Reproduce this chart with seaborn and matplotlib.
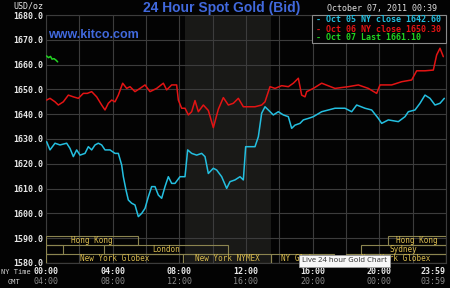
import matplotlib
matplotlib.use("Agg")
import matplotlib.pyplot as plt
import matplotlib.transforms as mtransforms
from matplotlib.patches import Rectangle
import seaborn as sns
import pandas as pd

# ---------------- data ----------------
oct05_hours = [0.04, 0.24, 0.54, 0.84, 1.24, 1.44, 1.64, 1.84, 2.04, 2.34, 2.54, 2.74, 2.94, 3.14,
               3.34, 3.54, 3.84, 4.14, 4.34, 4.54, 4.64, 4.80, 4.94, 5.14, 5.34, 5.54, 5.74, 5.94,
               6.14, 6.34, 6.54, 6.74, 6.94, 7.14, 7.34, 7.54, 7.74, 8.04, 8.34, 8.50, 8.74, 9.04,
               9.34, 9.54, 9.74, 10.04, 10.24, 10.54, 10.84, 11.04, 11.34, 11.64, 11.84, 11.98,
               12.24, 12.54, 12.74, 12.94, 13.14, 13.34, 13.64, 13.94, 14.24, 14.54, 14.74, 14.94,
               15.24, 15.44, 15.74, 16.04, 16.54, 17.34, 17.94, 18.34, 18.64, 19.14, 19.54, 19.94,
               20.14, 20.54, 21.14, 21.54, 21.74, 22.14, 22.44, 22.74, 23.04, 23.34, 23.64, 23.90]
oct05_price = [1628.9, 1625.6, 1628.3, 1627.6, 1628.3, 1626.2, 1622.9, 1625.6, 1623.5, 1624.2,
               1626.9, 1625.6, 1627.6, 1628.3, 1627.6, 1625.6, 1625.6, 1624.2, 1624.2, 1619.5,
               1614.8, 1609.4, 1605.4, 1604.1, 1603.4, 1598.7, 1600.0, 1602.0, 1606.7, 1610.8,
               1610.8, 1607.4, 1606.1, 1610.8, 1614.8, 1612.1, 1612.1, 1614.8, 1614.8, 1625.6,
               1624.2, 1623.5, 1624.2, 1622.9, 1616.1, 1618.2, 1617.5, 1614.8, 1610.1, 1612.8,
               1613.5, 1614.8, 1613.5, 1626.9, 1626.9, 1626.9, 1630.9, 1640.4, 1643.0, 1641.7,
               1639.7, 1641.0, 1639.7, 1639.0, 1634.3, 1635.6, 1636.3, 1637.7, 1638.3, 1639.0,
               1641.0, 1642.4, 1642.4, 1641.0, 1643.7, 1642.4, 1641.7, 1638.3, 1636.3, 1637.7,
               1637.0, 1639.0, 1641.0, 1641.7, 1644.4, 1647.7, 1646.4, 1643.7, 1644.4, 1646.4]

oct06_hours = [0.04, 0.24, 0.54, 0.74, 1.04, 1.34, 1.64, 1.94, 2.24, 2.48, 2.74, 3.04, 3.34, 3.54,
               3.74, 3.94, 4.14, 4.34, 4.60, 4.84, 5.04, 5.34, 5.64, 5.94, 6.24, 6.64, 7.04, 7.24,
               7.54, 7.84, 7.94, 8.14, 8.34, 8.54, 8.74, 8.94, 9.14, 9.44, 9.74, 10.04, 10.34,
               10.64, 10.94, 11.24, 11.54, 11.84, 12.14, 12.54, 12.94, 13.14, 13.44, 13.74, 14.14,
               14.54, 14.84, 15.14, 15.34, 15.54, 15.64, 16.04, 16.54, 17.34, 18.14, 18.74, 19.34,
               19.84, 20.04, 20.74, 21.34, 21.94, 22.24, 22.74, 23.24, 23.44, 23.64, 23.84]
oct06_price = [1645.7, 1646.4, 1645.0, 1643.7, 1645.0, 1647.7, 1647.0, 1646.4, 1648.4, 1648.4,
               1649.1, 1647.0, 1643.7, 1641.7, 1644.4, 1645.7, 1645.0, 1647.7, 1652.5, 1650.4,
               1651.1, 1649.1, 1650.4, 1651.8, 1649.1, 1650.4, 1652.5, 1649.8, 1651.8, 1651.8,
               1645.7, 1642.4, 1642.4, 1639.7, 1641.0, 1645.5, 1641.0, 1643.7, 1641.5, 1634.6,
               1642.0, 1646.7, 1643.7, 1644.4, 1646.4, 1643.0, 1643.0, 1643.0, 1643.7, 1645.0,
               1651.1, 1650.4, 1651.5, 1651.1, 1652.5, 1654.5, 1647.7, 1647.0, 1649.1, 1650.4,
               1652.5, 1650.4, 1651.1, 1651.8, 1650.4, 1648.4, 1651.8, 1651.8, 1653.1, 1653.8,
               1657.5, 1657.5, 1657.8, 1663.9, 1666.6, 1663.2]

oct07_hours = [0.03, 0.15, 0.27, 0.36, 0.48, 0.60, 0.70]
oct07_price = [1663.5, 1662.8, 1663.3, 1662.2, 1662.4, 1661.8, 1661.1]

series_names = ["Oct 05", "Oct 06", "Oct 07"]
legend_labels = ["Oct 05 NY close 1642.60", "Oct 06 NY close 1650.30", "Oct 07 Last 1661.10"]

y_ticks = [1580, 1590, 1600, 1610, 1620, 1630, 1640, 1650, 1660, 1670, 1680]
ny_time_labels = ["00:00", "04:00", "08:00", "12:00", "16:00", "20:00", "23:59"]
gmt_time_labels = ["04:00", "08:00", "12:00", "16:00", "20:00", "00:00", "03:59"]
label_hours = [0, 4, 8, 12, 16, 20, 24]

# sessions: name, start hour, end hour, row (0 = top)
session_names = ["Hong Kong", "Hong Kong", "", "London", "Sydney",
                 "New York Globex", "New York NYMEX", "NY Globex", "New York Globex"]
session_start = [0.0, 20.5, 0.0, 3.5, 18.9, 0.0, 8.22, 13.5, 18.0]
session_end = [5.5, 23.98, 1.0, 10.94, 23.98, 8.22, 13.5, 17.25, 23.98]
session_row = [0, 0, 1, 1, 1, 2, 2, 2, 2]

nymex_open, nymex_close = 8.33, 13.5

# ---------------- style ----------------
sns.set_theme(style="dark")
plt.rcParams["font.family"] = ["DejaVu Sans Mono", "DejaVu Sans"]

BG = "#030303"
GRID = "#3c3c3c"
CYAN = "#24bfe0"
RED = "#e31414"
GREEN = "#22d422"
GOLD = "#d9bb4e"
BOX = "#8c8550"
BLUE = "#4169dd"

df = pd.concat([
    pd.DataFrame({"hour": oct05_hours, "price": oct05_price, "series": series_names[0]}),
    pd.DataFrame({"hour": oct06_hours, "price": oct06_price, "series": series_names[1]}),
    pd.DataFrame({"hour": oct07_hours, "price": oct07_price, "series": series_names[2]}),
], ignore_index=True)

fig = plt.figure(figsize=(4.5, 2.88), dpi=100, facecolor=BG)
ax = fig.add_axes([46 / 450, 1 - 263 / 288, 400 / 450, 248 / 288])
ax.set_facecolor(BG)

ax.axvspan(nymex_open, nymex_close, color="#191917", zorder=0, lw=0)

sns.lineplot(data=df, x="hour", y="price", hue="series",
             palette={series_names[0]: CYAN, series_names[1]: RED, series_names[2]: GREEN},
             ax=ax, legend=False, linewidth=1.1, zorder=3, estimator=None, sort=False)

ax.set_xlim(0, 24)
ax.set_ylim(1580, 1680)
ax.set_xticks(range(0, 25, 2))
ax.set_xticklabels([])
ax.set_yticks(y_ticks)
ax.set_yticklabels([f"{v:.1f}" for v in y_ticks], color="#e8e8e8", fontsize=6, fontweight="bold")
ax.tick_params(axis="both", length=0, pad=2)
ax.set_xlabel("")
ax.set_ylabel("")
ax.grid(True, color=GRID, linewidth=0.8, zorder=1)
ax.set_axisbelow(True)
for s in ax.spines.values():
    s.set_color(GRID)
    s.set_linewidth(0.8)

# session bars
row_edges = [1590.9, 1587.3, 1583.6, 1580.0]
for name, st, en, r in zip(session_names, session_start, session_end, session_row):
    top, bot = row_edges[r], row_edges[r + 1]
    ax.add_patch(Rectangle((st, bot), en - st, top - bot, fill=False,
                           edgecolor=BOX, linewidth=0.8, zorder=4))
    if name:
        ax.text((st + en) / 2, (top + bot) / 2, name, color=GOLD, fontsize=5.5,
                ha="center", va="center", zorder=5)

# x labels (two rows)
trans = mtransforms.blended_transform_factory(ax.transData, fig.transFigure)
for i, (h, ny, gmt) in enumerate(zip(label_hours, ny_time_labels, gmt_time_labels)):
    ha = "right" if i == len(label_hours) - 1 else "center"
    hx = 23.98 if i == len(label_hours) - 1 else h
    fig.text(hx, 1 - 272 / 288, ny, transform=trans, color="#e8e8e8", fontsize=6,
             fontweight="bold", ha=ha, va="center")
    fig.text(hx, 1 - 282 / 288, gmt, transform=trans, color="#8a8a8a", fontsize=6,
             ha=ha, va="center")
fig.text(1 / 450, 1 - 272 / 288, "NY Time", color="#d0d0d0", fontsize=5, ha="left", va="center")
fig.text(8 / 450, 1 - 282 / 288, "GMT", color="#d0d0d0", fontsize=5, ha="left", va="center")

# header texts
fig.text(13 / 450, 1 - 6 / 288, "USD/oz", color="#e8e8e8", fontsize=6, ha="left", va="center")
fig.text(222 / 450, 1 - 8 / 288, "24 Hour Spot Gold (Bid)", color=BLUE, fontsize=10,
         fontweight="bold", family="Liberation Sans", ha="center", va="center")
fig.text(437 / 450, 1 - 9 / 288, "October 07, 2011 00:39", color="#e0e0e0", fontsize=6,
         ha="right", va="center")
ax.text(0.005, 1 - (35 - 15) / 248, "www.kitco.com", transform=ax.transAxes,
        color=BLUE, fontsize=9, fontweight="bold", family="Liberation Sans",
        ha="left", va="center", zorder=6)

# legend box
lx0 = (312 - 46) / 400
ly0 = (263 - 43) / 248
ax.add_patch(Rectangle((lx0, ly0), 1 - lx0, 1 - ly0, transform=ax.transAxes,
                       facecolor=BG, edgecolor="#8a8a8a", linewidth=0.8, zorder=6, clip_on=False))
for lbl, col, ypx in zip(legend_labels, [CYAN, RED, GREEN], [20, 29, 38]):
    ax.text((316 - 46) / 400, (263 - ypx) / 248, "- " + lbl, transform=ax.transAxes,
            color=col, fontsize=6, fontweight="bold", ha="left", va="center", zorder=7)

# browser tooltip overlay
fig.text(302 / 450, 1 - 261 / 288, "Live 24 hour Gold Chart", color="#3a3a3a", fontsize=5.5,
         family="Noto Sans", ha="left", va="center", zorder=10,
         bbox=dict(boxstyle="square,pad=0.35", facecolor="#f7f7f7", edgecolor="#9a9a9a", lw=0.6))

fig.savefig("out.png", dpi=100, facecolor=BG)
